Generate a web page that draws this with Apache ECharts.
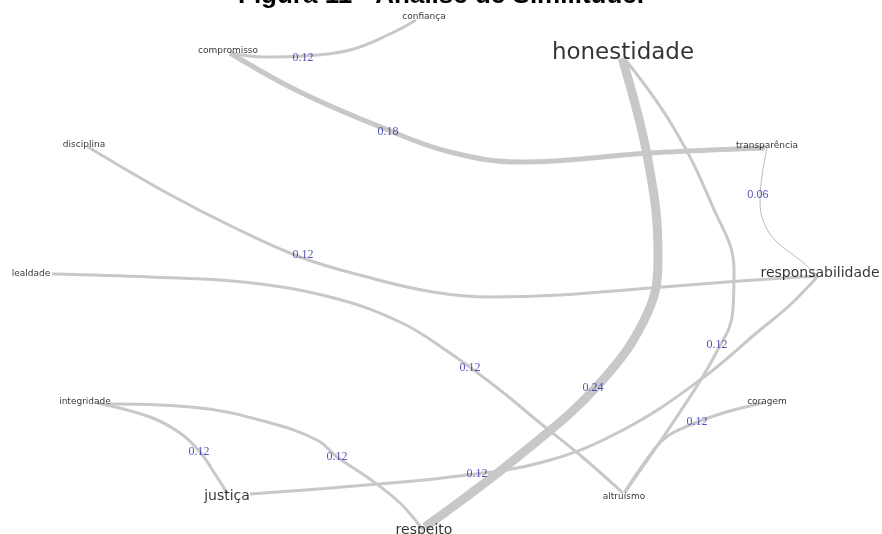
<!DOCTYPE html>
<html>
<head>
<meta charset="utf-8">
<script src="https://cdn.jsdelivr.net/npm/echarts@6/dist/echarts.min.js"></script>
<style>
  html, body { margin: 0; padding: 0; background: #fff; }
  #chart { width: 882px; height: 534px; }
</style>
</head>
<body>
<div id="chart"></div>
<script>
var chart = echarts.init(document.getElementById("chart"));

// nodes (label centres, in picture units)
var nodeNames = ["confiança", "compromisso", "honestidade", "disciplina", "transparência", "lealdade",
  "responsabilidade", "integridade", "coragem", "justiça", "respeito", "altruísmo"];
var nodeX = [424, 228, 623, 84, 767, 31, 820, 85, 767, 227, 424, 624];
var nodeY = [17, 51, 53, 145, 146, 274, 273, 402, 402, 496, 530, 497];

// edges of the similitude tree
var edgeSource = ["compromisso", "compromisso", "honestidade", "honestidade", "transparência", "disciplina",
  "lealdade", "responsabilidade", "integridade", "integridade", "coragem"];
var edgeTarget = ["confiança", "transparência", "respeito", "altruísmo", "responsabilidade", "responsabilidade",
  "altruísmo", "justiça", "justiça", "respeito", "altruísmo"];
var edgeWeight = [0.12, 0.18, 0.24, 0.12, 0.06, 0.12, 0.12, 0.12, 0.12, 0.12, 0.12];
var edgePath = [
  [[230, 53], [265, 57], [303, 56], [350, 50], [390, 34], [416, 20]],
  [[230, 53], [300, 92], [388, 130], [450, 152], [520, 162], [650, 153], [765, 148]],
  [[622, 58], [648, 160], [658, 255], [648, 312], [600, 383], [520, 455], [425, 527]],
  [[624, 58], [672, 125], [712, 205], [734, 270], [733, 310], [715, 355], [680, 412], [625, 492]],
  [[767, 148], [760, 200], [763, 220], [775, 240], [800, 260], [817, 275]],
  [[88, 147], [167, 193], [233, 227], [300, 257], [367, 277], [433, 292], [490, 297], [560, 295], [650, 288], [740, 281], [818, 276]],
  [[52, 274], [150, 277], [243, 282], [330, 297], [400, 322], [450, 353], [500, 390], [540, 423], [580, 455], [623, 493]],
  [[818, 276], [790, 305], [760, 330], [700, 380], [623, 430], [543, 462], [450, 477], [367, 485], [250, 494]],
  [[97, 403], [150, 417], [180, 433], [200, 452], [217, 477], [227, 493]],
  [[110, 404], [200, 408], [267, 422], [317, 440], [337, 457], [367, 477], [400, 503], [423, 530]],
  [[763, 403], [723, 413], [690, 425], [665, 438], [645, 462], [625, 492]]
];
var edgeLabelX = [303, 388, 593, 717, 758, 303, 470, 477, 199, 337, 697];
var edgeLabelY = [58, 132, 388, 345, 195, 255, 368, 474, 452, 457, 422];

var bigLabels = { "honestidade": 23, "responsabilidade": 14, "justiça": 14, "respeito": 14 };

function edgeWidth(w) {
  if (w <= 0.06) return 0.8;
  if (w <= 0.12) return 3;
  if (w <= 0.18) return 5;
  return 9;
}

var series = [];
for (var i = 0; i < edgePath.length; i++) {
  series.push({
    name: edgeSource[i] + " - " + edgeTarget[i],
    type: "line",
    smooth: 0.4,
    showSymbol: false,
    silent: true,
    z: 1,
    lineStyle: {
      color: edgeWeight[i] <= 0.06 ? "#a8a8a8" : "#c8c8c8",
      width: edgeWidth(edgeWeight[i]),
    },
    data: edgePath[i],
  });
}

var weightLabels = [];
for (var i = 0; i < edgeWeight.length; i++) {
  weightLabels.push({
    value: [edgeLabelX[i], edgeLabelY[i]],
    label: {
      formatter: edgeWeight[i].toFixed(2),
      fontFamily: edgeWeight[i] <= 0.06 ? "Liberation Sans" : "Liberation Serif",
      fontSize: edgeWeight[i] <= 0.06 ? 11 : 12,
    },
  });
}
series.push({
  type: "scatter",
  symbolSize: 1,
  itemStyle: { color: "rgba(0,0,0,0)" },
  z: 3,
  label: {
    show: true,
    position: "inside",
    color: "#2b2ba6",
  },
  data: weightLabels,
});

var nodeData = [];
for (var i = 0; i < nodeNames.length; i++) {
  nodeData.push({
    name: nodeNames[i],
    value: [nodeX[i], nodeY[i]],
    label: { fontSize: bigLabels[nodeNames[i]] || 9 },
  });
}
series.push({
  type: "scatter",
  symbolSize: 1,
  itemStyle: { color: "rgba(0,0,0,0)" },
  z: 4,
  label: {
    show: true,
    position: "inside",
    formatter: "{b}",
    color: "#000",
    fontFamily: "DejaVu Sans",
  },
  data: nodeData,
});

chart.setOption({
  animation: false,
  title: {
    text: "Figura 11 - Análise de Similitude.",
    left: "center",
    top: -17,
    padding: 0,
    textStyle: {
      fontFamily: "Liberation Sans",
      fontWeight: "bold",
      fontSize: 26,
      color: "#000",
    },
  },
  grid: { left: 0, right: 0, top: 0, bottom: 0 },
  xAxis: { type: "value", min: 0, max: 882, show: false },
  yAxis: { type: "value", min: 0, max: 534, inverse: true, show: false },
  series: series,
});
</script>
</body>
</html>
